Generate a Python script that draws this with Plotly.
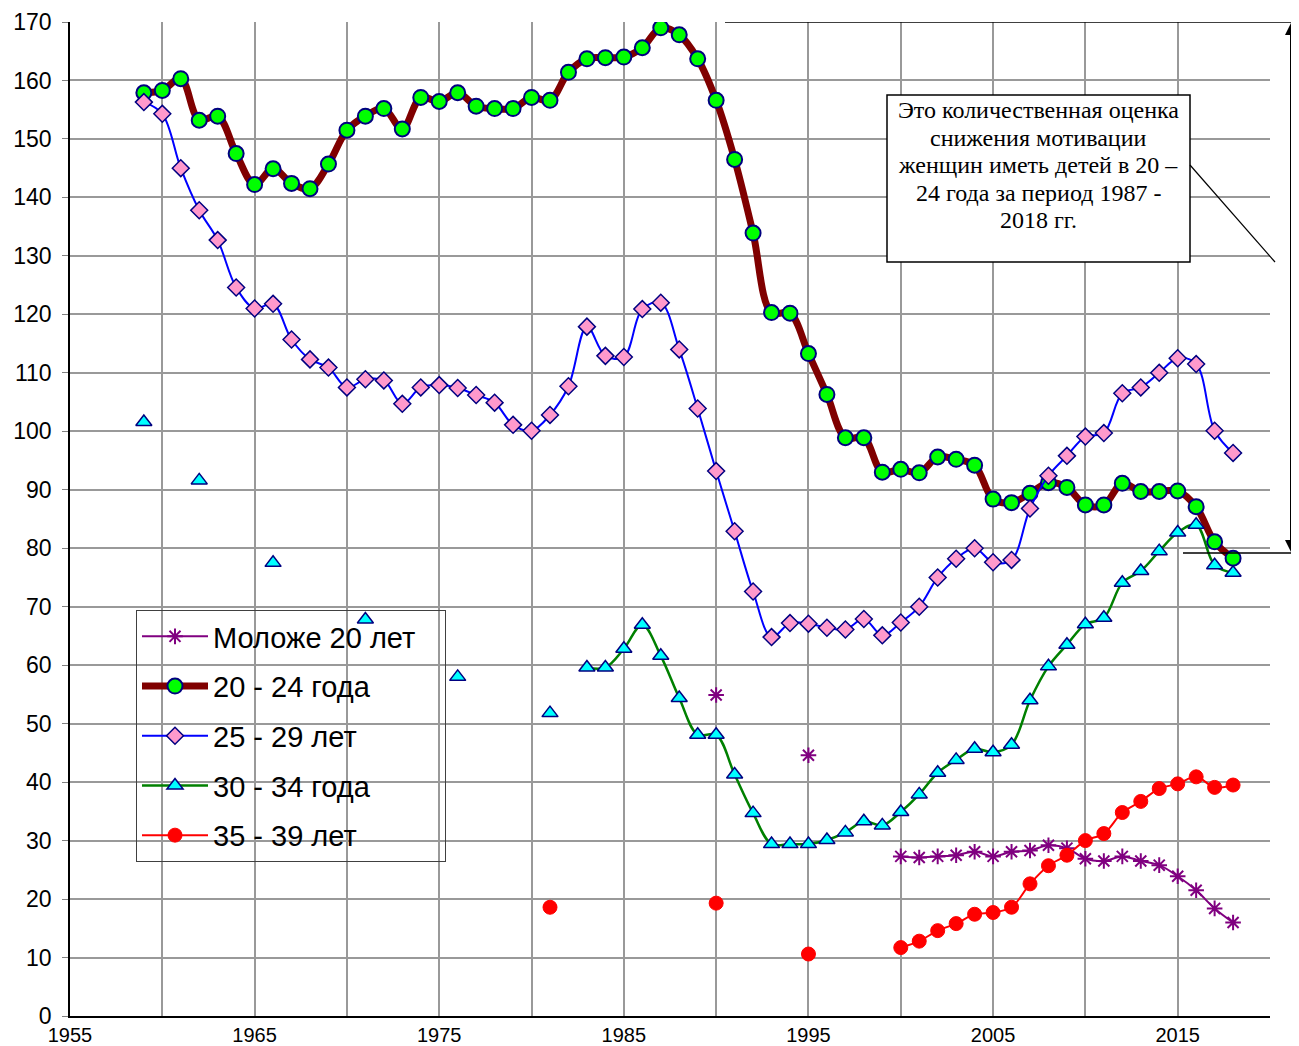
import plotly.graph_objects as go

years = list(range(1959, 2019))

# 20 - 24 года (1959-2018)
v20_24 = [157.9, 158.3, 160.3, 153.2, 153.9, 147.5, 142.2, 144.9, 142.4, 141.5,
          145.7, 151.5, 153.9, 155.2, 151.7, 157.1, 156.4, 157.9, 155.6, 155.2,
          155.2, 157.1, 156.6, 161.4, 163.7, 163.9, 164.0, 165.6, 169.0, 167.8,
          163.7, 156.6, 146.5, 133.9, 120.3, 120.2, 113.3, 106.3, 98.9, 98.9,
          93.0, 93.5, 92.9, 95.6, 95.2, 94.2, 88.4, 87.8, 89.4, 91.2,
          90.4, 87.4, 87.4, 91.1, 89.7, 89.7, 89.8, 87.1, 81.1, 78.3]

# 25 - 29 лет (1959-2018)
v25_29 = [156.3, 154.3, 145.0, 137.8, 132.7, 124.6, 121.0, 121.8, 115.7, 112.3,
          110.9, 107.5, 108.9, 108.7, 104.7, 107.5, 107.9, 107.4, 106.2, 104.9,
          101.1, 100.1, 102.8, 107.7, 117.9, 112.9, 112.7, 120.9, 122.0, 114.0,
          103.9, 93.2, 82.9, 72.6, 64.8, 67.2, 67.1, 66.4, 66.1, 67.9,
          65.1, 67.3, 70.0, 75.0, 78.2, 80.0, 77.6, 78.0, 86.8, 92.4,
          95.8, 99.1, 99.7, 106.5, 107.5, 110.0, 112.5, 111.5, 100.1, 96.3]

# 30 - 34 года (sparse early years)
y30_34 = [1959, 1962, 1966, 1971, 1976, 1981,
          1983, 1984, 1985, 1986, 1987, 1988, 1989, 1990, 1991, 1992,
          1993, 1994, 1995, 1996, 1997, 1998, 1999, 2000, 2001, 2002,
          2003, 2004, 2005, 2006, 2007, 2008, 2009, 2010, 2011, 2012,
          2013, 2014, 2015, 2016, 2017, 2018]
v30_34 = [101.6, 91.6, 77.5, 67.8, 58.0, 51.8,
          59.6, 59.6, 62.8, 66.9, 61.6, 54.4, 48.1, 48.1, 41.3, 34.7,
          29.4, 29.4, 29.4, 30.1, 31.4, 33.3, 32.6, 34.9, 37.9, 41.6,
          43.8, 45.7, 45.1, 46.4, 54.0, 59.8, 63.5, 67.0, 68.1, 74.1,
          76.1, 79.5, 82.7, 84.0, 77.1, 75.8]

# 35 - 39 лет
y35_39 = [1981, 1990, 1995,
          2000, 2001, 2002, 2003, 2004, 2005, 2006, 2007, 2008, 2009,
          2010, 2011, 2012, 2013, 2014, 2015, 2016, 2017, 2018]
v35_39 = [18.6, 19.3, 10.6,
          11.7, 12.8, 14.6, 15.8, 17.4, 17.7, 18.6, 22.6, 25.7, 27.5,
          30.0, 31.2, 34.8, 36.7, 38.9, 39.7, 40.9, 39.1, 39.5]

# Моложе 20 лет
y_u20 = [1990, 1995,
         2000, 2001, 2002, 2003, 2004, 2005, 2006, 2007, 2008, 2009,
         2010, 2011, 2012, 2013, 2014, 2015, 2016, 2017, 2018]
v_u20 = [54.9, 44.6,
         27.3, 27.1, 27.3, 27.5, 28.1, 27.3, 28.1, 28.3, 29.2, 28.7,
         26.9, 26.5, 27.3, 26.5, 25.8, 23.9, 21.5, 18.4, 16.0]

x_tick_vals = list(range(1955, 2021, 5))
x_tick_text = [str(v) if (v - 1955) % 10 == 0 else "" for v in x_tick_vals]
y_tick_vals = list(range(0, 171, 10))

note_lines = ["Это количественная оценка", "снижения мотивации",
              "женщин иметь детей в 20 –", "24 года за период 1987 -",
              "2018 гг."]

# page layout (the page body adds an 8 px offset)
OFF = 8
W, H = 1299 - OFF, 1046 - OFF
PL, PT, PR, PB = 70, 22, 1270, 1016          # plot area in page pixels
L, T = PL - OFF, PT - OFF
R, B = W - (PR - OFF), H - (PB - OFF)
PW = PR - PL


def px_to_paper(px):
    return (px - PL) / PW


def px_to_val(py):
    return (PB - py) / (PB - PT) * 170


def full(ys, vs):
    m = dict(zip(ys, vs))
    return [m.get(y) for y in years]


NAVY = "#000080"
NB = "\u00a0"
fig = go.Figure()

fig.add_trace(go.Scatter(
    x=years, y=full(y_u20, v_u20), name="Моложе 20 лет" + NB * 3, legendgroup="a",
    mode="lines+markers", connectgaps=False,
    line=dict(color="#800080", width=2, shape="spline"),
    marker=dict(symbol="asterisk-open", size=13, color="#800080",
                line=dict(color="#800080", width=2))))

fig.add_trace(go.Scatter(
    x=years, y=v20_24, name="20 - 24 года", legendgroup="b",
    mode="lines+markers",
    line=dict(color="#800000", width=7, shape="spline"),
    marker=dict(symbol="circle", size=15, color="#00ff00",
                line=dict(color=NAVY, width=2))))

fig.add_trace(go.Scatter(
    x=years, y=v25_29, name="25 - 29 лет", legendgroup="c",
    mode="lines+markers",
    line=dict(color="#0000ff", width=2, shape="spline"),
    marker=dict(symbol="diamond", size=13, color="#ff99cc",
                line=dict(color=NAVY, width=1.5))))

fig.add_trace(go.Scatter(
    x=years, y=full(y30_34, v30_34), name="30 - 34 года", legendgroup="d",
    mode="lines+markers", connectgaps=False,
    line=dict(color="#008000", width=2.5, shape="spline"),
    marker=dict(symbol="triangle-up", size=14, color="#00ffff",
                line=dict(color=NAVY, width=1.5))))

fig.add_trace(go.Scatter(
    x=years, y=full(y35_39, v35_39), name="35 - 39 лет", legendgroup="e",
    mode="lines+markers", connectgaps=False,
    line=dict(color="#ff0000", width=2, shape="spline"),
    marker=dict(symbol="circle", size=14, color="#ff0000",
                line=dict(color="#ff0000", width=1))))

fig.update_layout(
    width=W, height=H,
    margin=dict(l=L, r=R, t=T, b=B, pad=0),
    paper_bgcolor="white", plot_bgcolor="white",
    font=dict(family="Liberation Sans, Arial, sans-serif", color="black", size=23),
    showlegend=True,
    legend=dict(x=px_to_paper(136), y=(PB - 610) / (PB - PT),
                xanchor="left", yanchor="top",
                bgcolor="rgba(0,0,0,0)", bordercolor="#404040", borderwidth=1,
                font=dict(size=29, family="Liberation Sans, Arial, sans-serif"),
                traceorder="grouped", tracegroupgap=9, itemwidth=66),
    xaxis=dict(range=[1955, 2020], tickmode="array", tickvals=x_tick_vals,
               ticktext=x_tick_text, showgrid=True, gridcolor="#999999",
               gridwidth=2, zeroline=False, showline=True, linecolor="black",
               linewidth=2, ticks="", tickfont=dict(size=20), automargin=False),
    yaxis=dict(range=[0, 170], tickmode="array", tickvals=y_tick_vals,
               showgrid=True, gridcolor="#999999", gridwidth=2, zeroline=False,
               showline=True, linecolor="black", linewidth=1.5, ticks="outside",
               ticklen=6, tickcolor="#808080", tickfont=dict(size=23),
               ticklabelstandoff=6, automargin=False),
)

# Note box
fig.add_shape(type="rect", xref="paper", yref="y",
              x0=px_to_paper(887), x1=px_to_paper(1190),
              y0=px_to_val(262), y1=px_to_val(95),
              line=dict(color="black", width=1.5), fillcolor="white", layer="above")
for i, line_txt in enumerate(note_lines):
    fig.add_annotation(xref="paper", yref="y", x=px_to_paper(1038),
                       y=px_to_val(110 + i * 27.5),
                       xanchor="center", yanchor="middle", showarrow=False,
                       text=line_txt,
                       font=dict(family="Liberation Serif, Times New Roman, serif",
                                 size=24, color="black"))
# connector line
fig.add_shape(type="line", xref="paper", yref="y",
              x0=px_to_paper(1190), y0=px_to_val(165),
              x1=px_to_paper(1275), y1=px_to_val(262),
              line=dict(color="black", width=1.2), layer="above")
# horizontal marker lines
fig.add_shape(type="line", xref="paper", yref="y",
              x0=px_to_paper(725), x1=px_to_paper(1299), y0=170, y1=170,
              line=dict(color="black", width=1.5), layer="above")
fig.add_shape(type="line", xref="paper", yref="y",
              x0=px_to_paper(1183), x1=px_to_paper(1299),
              y0=px_to_val(553), y1=px_to_val(553),
              line=dict(color="black", width=1.5), layer="above")
# double arrow: shaft + two heads
AX = px_to_paper(1291)
fig.add_shape(type="line", xref="paper", yref="y",
              x0=AX, x1=AX, y0=px_to_val(30), y1=px_to_val(545),
              line=dict(color="black", width=2), layer="above")
fig.add_annotation(xref="paper", yref="y", x=AX, y=px_to_val(23),
                   ax=0, ay=25, text="", showarrow=True, arrowhead=2,
                   arrowsize=1.2, arrowwidth=2, arrowcolor="black")
fig.add_annotation(xref="paper", yref="y", x=AX, y=px_to_val(552),
                   ax=0, ay=-25, text="", showarrow=True, arrowhead=2,
                   arrowsize=1.2, arrowwidth=2, arrowcolor="black")

fig.write_html("out.html")
